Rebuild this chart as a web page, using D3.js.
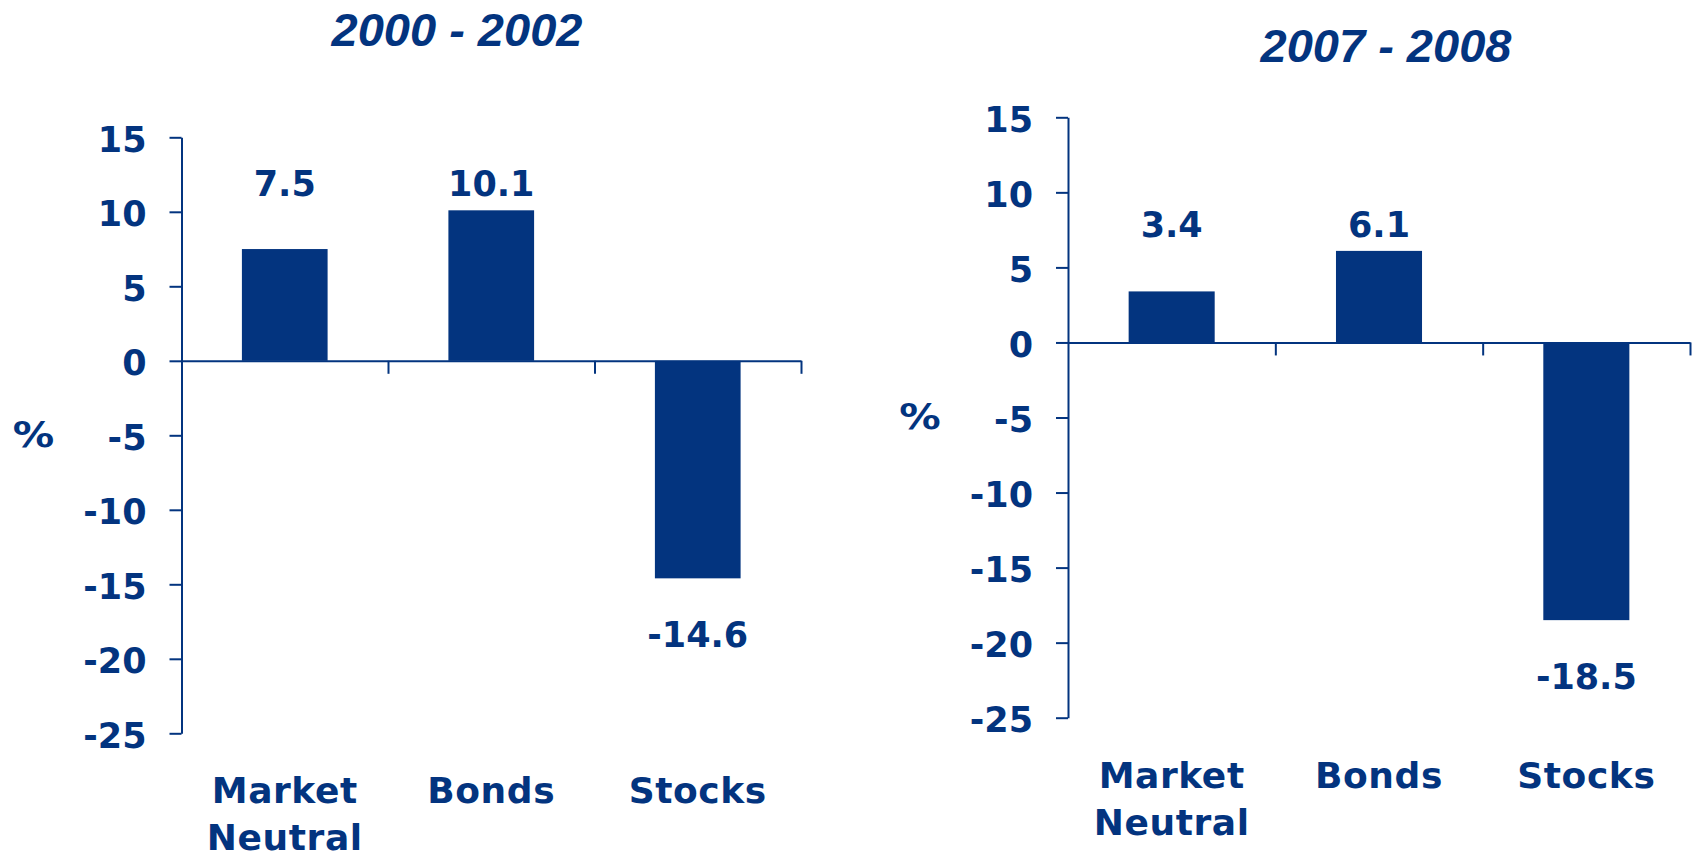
<!DOCTYPE html>
<html>
<head>
<meta charset="utf-8">
<script src="https://cdn.jsdelivr.net/npm/d3@7"></script>
<style>
  html, body { margin: 0; padding: 0; background: #fff; }
  svg { display: block; }
  text { font-family: "DejaVu Sans", Verdana, sans-serif; fill: #03347f; font-weight: bold; }
  .title { font-family: "Liberation Sans", Arial, sans-serif; font-style: italic; }
</style>
</head>
<body>
<svg id="chart" width="1694" height="855"></svg>
<script>
// data
const categories = ["Market Neutral", "Bonds", "Stocks"];
const categoryLines = [["Market", "Neutral"], ["Bonds"], ["Stocks"]];
const returns2000 = [7.5, 10.1, -14.6];
const returns2007 = [3.4, 6.1, -18.5];
const yTicks = [15, 10, 5, 0, -5, -10, -15, -20, -25];
const periodTitles = ["2000 - 2002", "2007 - 2008"];

const navy = "#03347f";
const svg = d3.select("#chart");

// where each panel sits on the page
const panels = [
    { title: periodTitles[0], values: returns2000, left: 181.5, right: 801, top: 137.3, bottom: 733.3, titleX: 457, titleY: 46 },
    { title: periodTitles[1], values: returns2007, left: 1068, right: 1690, top: 117.3, bottom: 717.7, titleX: 1386, titleY: 62 }
];

function label(parent, x, y, str, size, cls) {
    return parent.append("text")
        .attr("class", cls || null)
        .attr("x", x)
        .attr("y", y)
        .attr("text-anchor", "middle")
        .style("font-size", size + "px")
        .text(str);
}

function drawPanel(p) {
    const g = svg.append("g");

    const y = d3.scaleLinear().domain([-25, 15]).range([p.bottom, p.top]);
    const x = d3.scaleBand().domain(categories).range([p.left, p.right]).paddingInner(0).paddingOuter(0);
    const edges = d3.scaleLinear().domain([0, categories.length]).range([p.left, p.right]);
    const barW = x.bandwidth() * 0.415;

    // title
    label(g, p.titleX, p.titleY, p.title, 47, "title");

    // bars
    g.selectAll("rect.bar")
        .data(p.values)
        .join("rect")
        .attr("class", "bar")
        .attr("x", (d, i) => x(categories[i]) + (x.bandwidth() - barW) / 2)
        .attr("y", d => y(Math.max(0, d)))
        .attr("width", barW)
        .attr("height", d => Math.abs(y(d) - y(0)))
        .attr("fill", navy);

    // y axis
    const yAxis = g.append("g")
        .attr("transform", `translate(${p.left},0)`)
        .call(d3.axisLeft(y).tickValues(yTicks).tickSize(12).tickSizeOuter(0).tickPadding(23)
            .tickFormat(d => String(d)));
    yAxis.selectAll("text")
        .attr("dy", "14px")
        .style("font-size", "35px")
        .style("font-family", "'DejaVu Sans', Verdana, sans-serif")
        .attr("fill", navy);

    // x axis on zero, ticks at the category boundaries
    const xAxis = g.append("g")
        .attr("transform", `translate(0,${y(0)})`)
        .call(d3.axisBottom(edges).tickValues(d3.range(1, categories.length + 1)).tickSize(13).tickSizeOuter(0).tickFormat(""));

    [yAxis, xAxis].forEach(a => {
        a.selectAll("path, line").attr("stroke", navy).attr("stroke-width", 2);
    });

    // % label
    label(g, p.left - 148, (p.top + p.bottom) / 2 + 12, "%", 36)
        .attr("transform", `translate(${-(p.left - 148) * 0.15},0) scale(1.15,1)`);

    // value labels
    const maxPos = d3.max(p.values);
    p.values.forEach((v, i) => {
        const cx = x(categories[i]) + x.bandwidth() / 2;
        const ly = v >= 0 ? y(maxPos) - 14 : y(v) + 69;
        label(g, cx, ly, v.toFixed(1), 35);
    });

    // category labels
    categoryLines.forEach((lines, i) => {
        const cx = x(categories[i]) + x.bandwidth() / 2;
        lines.forEach((line, j) => {
            label(g, cx, p.bottom + 70 + j * 47, line, 36).style("letter-spacing", "0.6px");
        });
    });
}

panels.forEach(drawPanel);
</script>
</body>
</html>
